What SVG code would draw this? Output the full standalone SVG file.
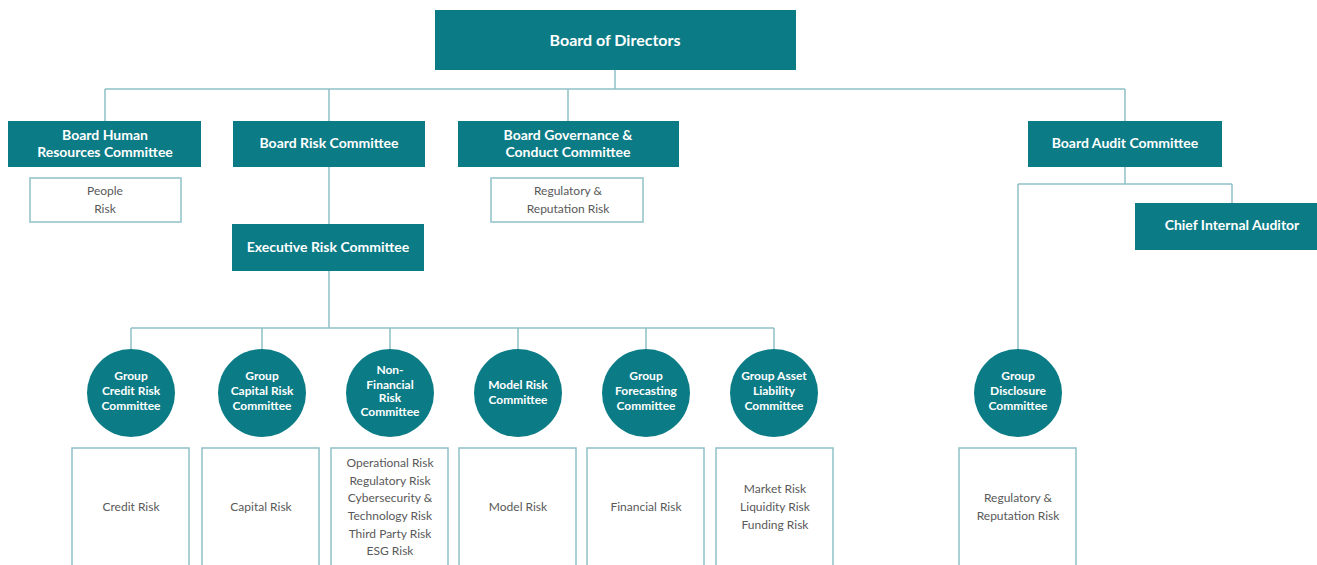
<svg xmlns="http://www.w3.org/2000/svg" width="1317" height="565" viewBox="0 0 1317 565">
<style>
.n{fill:#0b7b86}
.b{fill:#ffffff;stroke:#8fc0c7;stroke-width:1.5}
.c{fill:none;stroke:#8fc0c7;stroke-width:1.5}
.t{font-family:Lato,"Liberation Sans",sans-serif;font-weight:bold;fill:#ffffff;text-anchor:middle}
.g{font-family:Lato,"Liberation Sans",sans-serif;fill:#595959;font-size:12px;text-anchor:middle}
.l{font-size:14px}
.s{font-size:12px}
</style>
<rect width="1317" height="565" fill="#ffffff"/>
<g id="connectors">
<path class="c" d="M615 70V89M105 89H1125M105 89V121M329 89V121M568 89V121M1125 89V121"/>
<path class="c" d="M1125 167V184M1018 184H1232M1232 184V203M1018 184V350"/>
<path class="c" d="M329 167V224M329 271V328M131 328H774M131 328V350M262 328V350M390 328V350M518 328V350M646 328V350M774 328V350"/>
</g>
<g id="board-of-directors"><rect class="n" x="435" y="10" width="361" height="60"/><text class="t" x="615" y="46" font-size="16">Board of Directors</text></g>
<g id="board-hr"><rect class="n" x="8" y="121" width="193" height="46"/><text class="t l" x="105" y="140">Board Human</text><text class="t l" x="105" y="157">Resources Committee</text></g>
<g id="board-risk"><rect class="n" x="233" y="121" width="192" height="46"/><text class="t l" x="329" y="148">Board Risk Committee</text></g>
<g id="board-governance"><rect class="n" x="458" y="121" width="221" height="46"/><text class="t l" x="568" y="140">Board Governance &amp;</text><text class="t l" x="568" y="157">Conduct Committee</text></g>
<g id="board-audit"><rect class="n" x="1028" y="121" width="194" height="46"/><text class="t l" x="1125" y="148">Board Audit Committee</text></g>
<g id="chief-internal-auditor"><rect class="n" x="1135" y="203" width="182" height="47"/><text class="t l" x="1232" y="230">Chief Internal Auditor</text></g>
<g id="people-risk"><rect class="b" x="30" y="178" width="151" height="44"/><text class="g" x="105" y="195">People</text><text class="g" x="105" y="213">Risk</text></g>
<g id="reg-rep-risk-1"><rect class="b" x="491" y="178" width="152" height="44"/><text class="g" x="568" y="195">Regulatory &amp;</text><text class="g" x="568" y="213">Reputation Risk</text></g>
<g id="executive-risk"><rect class="n" x="232" y="224" width="192" height="47"/><text class="t l" x="328" y="252">Executive Risk Committee</text></g>
<g id="credit-committee"><circle class="n" cx="131" cy="393" r="44"/><text class="t s" x="131" y="380">Group</text><text class="t s" x="131" y="395">Credit Risk</text><text class="t s" x="131" y="410">Committee</text></g>
<g id="capital-committee"><circle class="n" cx="262" cy="393" r="44"/><text class="t s" x="262" y="380">Group</text><text class="t s" x="262" y="395">Capital Risk</text><text class="t s" x="262" y="410">Committee</text></g>
<g id="nonfin-committee"><circle class="n" cx="390" cy="393" r="44"/><text class="t s" x="390" y="374">Non-</text><text class="t s" x="390" y="389">Financial</text><text class="t s" x="390" y="402">Risk</text><text class="t s" x="390" y="416">Committee</text></g>
<g id="model-committee"><circle class="n" cx="518" cy="393" r="44"/><text class="t s" x="518" y="389">Model Risk</text><text class="t s" x="518" y="404">Committee</text></g>
<g id="forecasting-committee"><circle class="n" cx="646" cy="393" r="44"/><text class="t s" x="646" y="380">Group</text><text class="t s" x="646" y="395">Forecasting</text><text class="t s" x="646" y="410">Committee</text></g>
<g id="alco"><circle class="n" cx="774" cy="393" r="44"/><text class="t s" x="774" y="380">Group Asset</text><text class="t s" x="774" y="395">Liability</text><text class="t s" x="774" y="410">Committee</text></g>
<g id="disclosure-committee"><circle class="n" cx="1018" cy="393" r="44"/><text class="t s" x="1018" y="380">Group</text><text class="t s" x="1018" y="395">Disclosure</text><text class="t s" x="1018" y="410">Committee</text></g>
<g id="credit-risk"><rect class="b" x="72" y="448" width="117" height="130"/><text class="g" x="131" y="511">Credit Risk</text></g>
<g id="capital-risk"><rect class="b" x="202" y="448" width="117" height="130"/><text class="g" x="261" y="511">Capital Risk</text></g>
<g id="nonfin-risk"><rect class="b" x="331" y="448" width="117" height="130"/><text class="g" x="390" y="467">Operational Risk</text><text class="g" x="390" y="485">Regulatory Risk</text><text class="g" x="390" y="502">Cybersecurity &amp;</text><text class="g" x="390" y="520">Technology Risk</text><text class="g" x="390" y="538">Third Party Risk</text><text class="g" x="390" y="555">ESG Risk</text></g>
<g id="model-risk"><rect class="b" x="459" y="448" width="117" height="130"/><text class="g" x="518" y="511">Model Risk</text></g>
<g id="financial-risk"><rect class="b" x="587" y="448" width="117" height="130"/><text class="g" x="646" y="511">Financial Risk</text></g>
<g id="market-risk"><rect class="b" x="716" y="448" width="117" height="130"/><text class="g" x="775" y="493">Market Risk</text><text class="g" x="775" y="511">Liquidity Risk</text><text class="g" x="775" y="529">Funding Risk</text></g>
<g id="reg-rep-risk-2"><rect class="b" x="959" y="448" width="117" height="130"/><text class="g" x="1018" y="502">Regulatory &amp;</text><text class="g" x="1018" y="520">Reputation Risk</text></g>
</svg>
